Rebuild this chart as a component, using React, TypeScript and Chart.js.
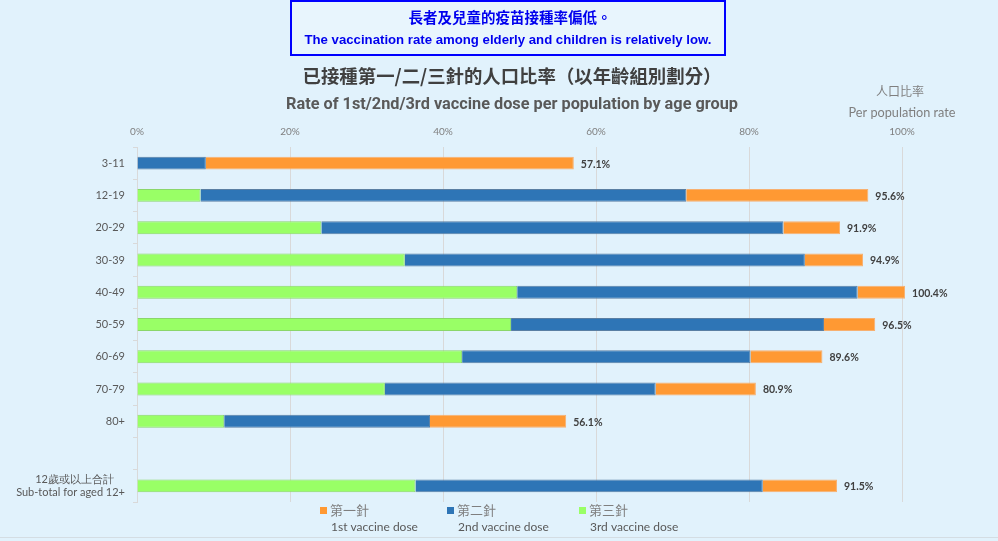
import { useEffect, useRef } from "react";
import { Chart, registerables } from "chart.js";

Chart.register(...registerables);

const categories: (string | string[])[] = [
  "3-11",
  "12-19",
  "20-29",
  "30-39",
  "40-49",
  "50-59",
  "60-69",
  "70-79",
  "80+",
  "",
  ["12歲或以上合計\u3000", "Sub-total for aged 12+"],
];
// cumulative rates (%)
const firstDose: (number | null)[] = [57.1, 95.6, 91.9, 94.9, 100.4, 96.5, 89.6, 80.9, 56.1, null, 91.5];
const secondDose: (number | null)[] = [9.0, 71.8, 84.5, 87.3, 94.2, 89.8, 80.2, 67.8, 38.3, null, 81.8];
const thirdDose: (number | null)[] = [0, 8.3, 24.1, 35.0, 49.7, 48.9, 42.5, 32.4, 11.4, null, 36.4];
const xTickStep = 20;
const xMax = 100;
const seriesZh = ["第一針", "第二針", "第三針"];
const seriesEn = ["1st vaccine dose", "2nd vaccine dose", "3rd vaccine dose"];
const seriesColors = ["#FF9933", "#2E75B6", "#99FF66"];
const seriesBorders = ["#F7B070", "#5A7FA3", "#8AD66A"];
const noteZh = "長者及兒童的疫苗接種率偏低。";
const noteEn = "The vaccination rate among elderly and children is relatively low.";
const titleZh = "已接種第一/二/三針的人口比率（以年齡組別劃分）";
const titleEn = "Rate of 1st/2nd/3rd vaccine dose per population by age group";
const unitZh = "人口比率";
const unitEn = "Per population rate";

const diff = (a: (number | null)[], b: (number | null)[]) =>
  a.map((v, i) => (v == null || b[i] == null ? null : +(v - (b[i] as number)).toFixed(1)));

export default function App() {
  const ref = useRef<HTMLCanvasElement>(null);
  useEffect(() => {
    const canvas = ref.current!;
    const bgPlugin = {
      id: "bg",
      beforeDraw(chart: any) {
        const c = chart.ctx;
        c.save();
        c.fillStyle = "#E1F2FC";
        c.fillRect(0, 0, chart.width, chart.height);
        c.restore();
      },
    };
    const textPlugin = {
      id: "texts",
      afterDraw(chart: any) {
        const c = chart.ctx as CanvasRenderingContext2D;
        const xs = chart.scales.x;
        const ys = chart.scales.y;
        c.save();
        // note box
        c.fillStyle = "#E8F5FD";
        c.fillRect(291, 1, 434, 54);
        c.strokeStyle = "#0000FF";
        c.lineWidth = 2;
        c.strokeRect(291, 1, 434, 54);
        c.fillStyle = "#0000EE";
        c.textAlign = "center";
        c.textBaseline = "middle";
        c.font = "bold 14.5px 'Noto Sans CJK TC'";
        c.fillText(noteZh, 510, 17);
        c.font = "bold 13.2px 'Liberation Sans'";
        c.fillText(noteEn, 508, 40);
        // titles
        c.fillStyle = "#404040";
        c.font = "bold 18.4px 'Noto Sans CJK TC'";
        c.fillText(titleZh, 512, 76);
        c.fillStyle = "#595959";
        c.font = "bold 16.3px Roboto";
        c.fillText(titleEn, 512, 105);
        // unit
        c.fillStyle = "#7F7F7F";
        c.font = "12px 'Noto Sans CJK TC'";
        c.fillText(unitZh, 900, 91);
        c.font = "12.7px Lato";
        c.fillText(unitEn, 902, 113);
        // data labels
        c.fillStyle = "#404040";
        c.textAlign = "left";
        c.font = "bold 10.5px Lato";
        firstDose.forEach((v, i) => {
          if (v == null) return;
          c.fillText(v.toFixed(1) + "%", xs.getPixelForValue(v) + 7, ys.getPixelForValue(i) + 1);
        });
        // legend
        const legX = [320, 447, 579];
        seriesZh.forEach((zh, i) => {
          c.fillStyle = seriesColors[i];
          c.fillRect(legX[i], 507, 7, 7);
          c.fillStyle = "#7F7F7F";
          c.font = "13px 'Noto Sans CJK TC'";
          c.fillText(zh, legX[i] + 10, 510);
          c.fillStyle = "#595959";
          c.font = "12px Lato";
          c.fillText(seriesEn[i], legX[i] + 11, 527);
        });
        // bottom line
        c.strokeStyle = "#D4DDE3";
        c.lineWidth = 1;
        c.beginPath();
        c.moveTo(0, 537.5);
        c.lineTo(998, 537.5);
        c.stroke();
        c.restore();
      },
    };
    const chart = new Chart(canvas, {
      type: "bar",
      data: {
        labels: categories,
        datasets: [
          {
            label: seriesEn[2],
            data: thirdDose,
            backgroundColor: seriesColors[2],
            borderColor: seriesBorders[2],
            borderWidth: 1,
          },
          {
            label: seriesEn[1],
            data: diff(secondDose, thirdDose),
            backgroundColor: seriesColors[1],
            borderColor: seriesBorders[1],
            borderWidth: 1,
          },
          {
            label: seriesEn[0],
            data: diff(firstDose, secondDose),
            backgroundColor: seriesColors[0],
            borderColor: seriesBorders[0],
            borderWidth: 1,
          },
        ],
      },
      options: {
        indexAxis: "y",
        animation: false,
        responsive: false,
        devicePixelRatio: 1,
        layout: { padding: { top: 120, left: 0, right: 96, bottom: 39 } },
        datasets: { bar: { categoryPercentage: 0.8, barPercentage: 0.5, clip: false as any } },
        plugins: {
          legend: { display: false },
          tooltip: { enabled: false },
          title: { display: false },
        },
        scales: {
          x: {
            position: "top",
            stacked: true,
            min: 0,
            max: xMax,
            ticks: {
              stepSize: xTickStep,
              callback: (v: any) => v + "%",
              font: { family: "Lato", size: 10 },
              color: "#7F7F7F",
              padding: 9,
            },
            grid: { color: "#D9D9D9", drawTicks: false },
            border: { display: false },
            afterFit: (s: any) => {
              s.height = 27;
            },
          },
          y: {
            stacked: true,
            ticks: {
              font: { family: "Lato", size: 11 },
              color: "#595959",
              padding: 8,
            },
            grid: { drawOnChartArea: false, drawTicks: true, tickLength: 4, color: "#D9D9D9" },
            border: { display: true, color: "#D9D9D9" },
            afterFit: (s: any) => {
              s.width = 137;
            },
          },
        },
      },
      plugins: [bgPlugin, textPlugin],
    });
    return () => chart.destroy();
  }, []);
  return (
    <div style={{ position: "absolute", left: 0, top: 0, width: 998, height: 541 }}>
      <canvas ref={ref} width={998} height={541} />
    </div>
  );
}
